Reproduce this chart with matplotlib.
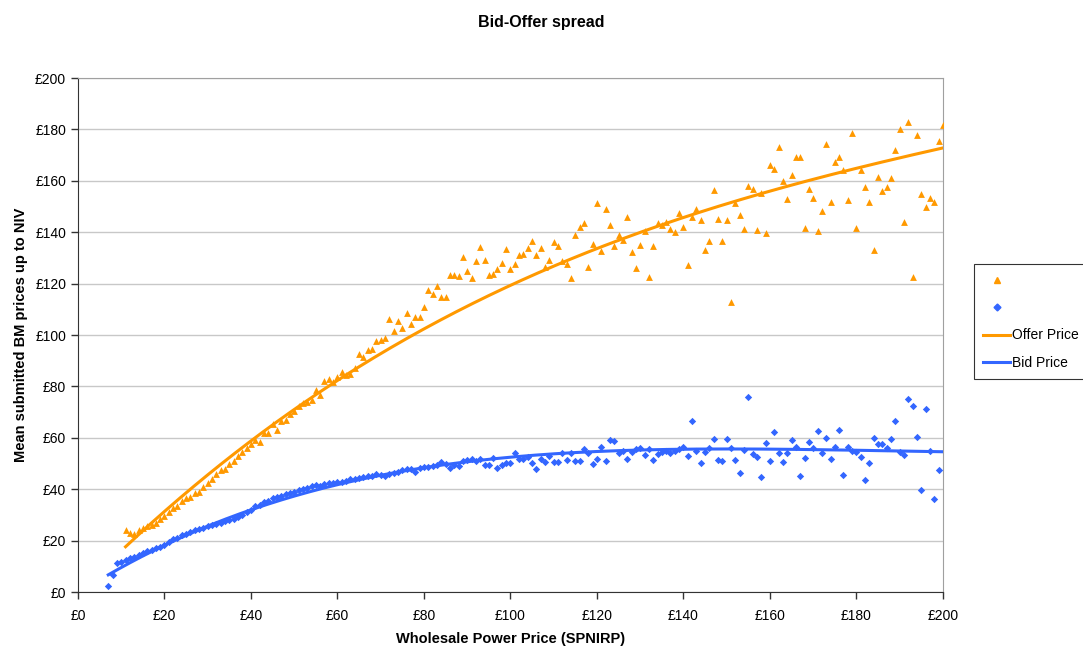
import numpy as np
import matplotlib
matplotlib.use("Agg")
import matplotlib.pyplot as plt
from matplotlib.ticker import FuncFormatter, MultipleLocator
from matplotlib.lines import Line2D

plt.rcParams['font.family'] = ['Liberation Sans', 'DejaVu Sans']

# wholesale price (£, one point per £1)
offer_x = np.arange(11, 201)
bid_x = np.arange(7, 200)

# mean submitted offer prices
offer_y = [
    24, 23, 22.5, 24, 25, 25.5, 26, 27, 28.5, 29.5,
    31, 32.5, 33.5, 35.5, 36.5, 37, 38.5, 39, 41, 42.5,
    44, 46, 47.5, 48, 50, 51, 53, 54.5, 56, 57.5,
    59.2, 58.3, 61.8, 61.8, 65.4, 63.1, 66.4, 67, 69.4, 70.3,
    72.2, 73.5, 73.8, 74.8, 78.7, 76.8, 82, 82.9, 81.6, 83.5,
    85.5, 84.5, 85, 87.1, 92.8, 91.5, 94.1, 94.6, 97.6, 98,
    98.9, 106.3, 101.5, 105.4, 102.7, 108.7, 104.1, 107.2, 107, 110.9,
    117.7, 116.1, 119, 114.8, 114.8, 123.2, 123.5, 122.9, 130.3, 125.1,
    122.1, 128.7, 134.3, 129.1, 123.5, 123.8, 125.7, 128.1, 133.5, 125.8,
    127.8, 131, 131.6, 133.9, 136.5, 131, 133.9, 126.6, 129, 136.2,
    134.5, 128.7, 127.8, 122.3, 139.1, 141.9, 143.6, 126.6, 135.6, 151.3,
    132.6, 149.2, 143, 134.5, 139.1, 136.9, 145.8, 132.3, 126.2, 134.9,
    140.4, 122.7, 134.5, 143.6, 142.7, 143.9, 141.4, 139.9, 147.6, 142.2,
    127.3, 146, 148.9, 144.6, 133.1, 136.5, 156.3, 145.1, 136.7, 144.8,
    113, 151.5, 146.7, 141.3, 157.9, 156.8, 141, 155.4, 139.8, 166.2,
    164.6, 173.1, 160, 152.9, 162.2, 169.3, 169.3, 141.8, 156.8, 153.4,
    140.6, 148.1, 174.5, 151.8, 167.5, 169.2, 164.2, 152.6, 178.8, 141.6,
    164.3, 157.5, 151.8, 133, 161.4, 155.9, 157.5, 161, 171.8, 180.3,
    144, 183, 122.7, 177.9, 154.8, 150, 153.3, 151.7, 175.3, 181.8,
]

# mean submitted bid prices
bid_y = [
    2.5, 6.5, 11.2, 11.5, 12.3, 13.1, 13.6, 14.5, 15.3, 16,
    16.5, 17, 17.6, 18.3, 19.5, 20.5, 21, 22, 22.5, 23.5,
    24, 24.5, 25, 25.5, 26, 26.5, 27, 27.5, 28, 28.5,
    29, 30, 31, 32, 33.5, 34, 35, 35.5, 36.5, 37,
    37.5, 38, 38.5, 39, 39.5, 40, 40.5, 41.2, 41.5, 41.3,
    42, 42.5, 42.3, 42.7, 42.8, 43.3, 43.8, 44, 44.2, 44.7,
    45, 45.3, 45.8, 45.5, 45.1, 46, 46.5, 46.7, 47.5, 48,
    47.8, 46.7, 48.3, 48.7, 48.5, 49.2, 49.5, 50.5, 49.8, 48.3,
    49.5, 49, 51, 51.2, 51.6, 51, 51.6, 49.6, 49.6, 52.1,
    48.3, 49.6, 50.3, 50.3, 53.9, 51.8, 51.8, 52.6, 50.3, 47.9,
    51.6, 50.7, 53.1, 50.5, 50.5, 53.9, 51.3, 53.9, 50.8, 50.8,
    55.5, 54.2, 50, 51.8, 56.5, 51.1, 59.1, 58.7, 53.9, 54.8,
    51.8, 54.4, 55.5, 55.9, 53.4, 55.6, 51.5, 53.7, 54.3, 54.9,
    53.9, 54.7, 55.6, 56.6, 52.9, 66.5, 54.7, 50.3, 54.3, 56,
    59.5, 51.3, 51.1, 59.5, 56.2, 51.2, 46.4, 55.3, 75.7, 53.7,
    52.6, 44.8, 57.8, 51.1, 62.2, 54, 50.7, 53.9, 59.1, 56.5,
    45, 52.1, 58.2, 55.9, 62.5, 53.9, 60.1, 51.7, 56.5, 63.1,
    45.5, 56.5, 55, 54.3, 52.7, 43.5, 50.2, 60.1, 57.5, 57.5,
    56, 59.7, 66.5, 54.3, 53.3, 75, 72.4, 60.5, 39.7, 71.1,
    54.7, 36.2, 47.6,
]

# trendline readings taken off the chart (the fitted curves, not the points)
offer_trend_x = [11, 39, 60, 78, 83, 112, 131, 137, 167, 200]
offer_trend_y = [18, 56.6, 82, 100.9, 106, 128.7, 140.4, 142.6, 160, 172.7]
bid_trend_x = [7, 19, 40, 54, 61, 92, 130, 150, 165, 200]
bid_trend_y = [6.5, 17.8, 31.5, 39.3, 42.4, 50.9, 55.4, 55.7, 55.4, 54.6]

orange = "#FF9900"
blue = "#3366FF"

offer_fit = np.poly1d(np.polyfit(offer_trend_x, offer_trend_y, 3))
bid_fit = np.poly1d(np.polyfit(bid_trend_x, bid_trend_y, 4))
ox = np.linspace(11, 200, 300)
bx = np.linspace(7, 200, 300)

fig = plt.figure(figsize=(10.83, 6.48), dpi=100)
ax = fig.add_axes([0.072, 0.0864, 0.7987, 0.7932])

ax.scatter(offer_x, offer_y, marker="^", s=24, color=orange, linewidths=0, zorder=3)
ax.scatter(bid_x, bid_y, marker="D", s=14, color=blue, linewidths=0, zorder=3)
ax.plot(ox, offer_fit(ox), color=orange, lw=2.2, zorder=4)
ax.plot(bx, bid_fit(bx), color=blue, lw=2.2, zorder=4)

ax.set_xlim(0, 200)
ax.set_ylim(0, 200)
ax.xaxis.set_major_locator(MultipleLocator(20))
ax.yaxis.set_major_locator(MultipleLocator(20))
money = FuncFormatter(lambda v, p: f"£{int(v)}")
ax.xaxis.set_major_formatter(money)
ax.yaxis.set_major_formatter(money)
ax.tick_params(labelsize=10, direction="out", length=5, width=1, color="#333333")
ax.tick_params(axis="x", pad=7)
ax.grid(axis="y", color="#c8c8c8", lw=1)
ax.set_axisbelow(True)
for side in ["top", "right"]:
    ax.spines[side].set_color("#a0a0a0")
for side in ["left", "bottom"]:
    ax.spines[side].set_color("#333333")

ax.set_xlabel("Wholesale Power Price (SPNIRP)", fontsize=10.5, fontweight="bold", labelpad=7)
ax.set_ylabel("Mean submitted BM prices up to NIV", fontsize=10.5, fontweight="bold", labelpad=5)
fig.text(0.5, 0.965, "Bid-Offer spread", ha="center", va="center", fontsize=11.5, fontweight="bold")

handles = [
    Line2D([], [], ls="none", marker="^", color=orange, markersize=5),
    Line2D([], [], ls="none", marker="D", color=blue, markersize=3.5),
    Line2D([], [], color=orange, lw=2.2),
    Line2D([], [], color=blue, lw=2.2),
]
leg = fig.legend(handles, [" ", " ", "Offer Price", "Bid Price"],
                 loc="upper left", bbox_to_anchor=(0.899, 0.592),
                 fontsize=10, frameon=True, fancybox=False, handlelength=1.9,
                 handletextpad=0.15, borderpad=0.7, labelspacing=0.95, borderaxespad=0)
leg.get_frame().set_edgecolor("black")
leg.get_frame().set_linewidth(0.8)

fig.savefig("out.png", dpi=100)
